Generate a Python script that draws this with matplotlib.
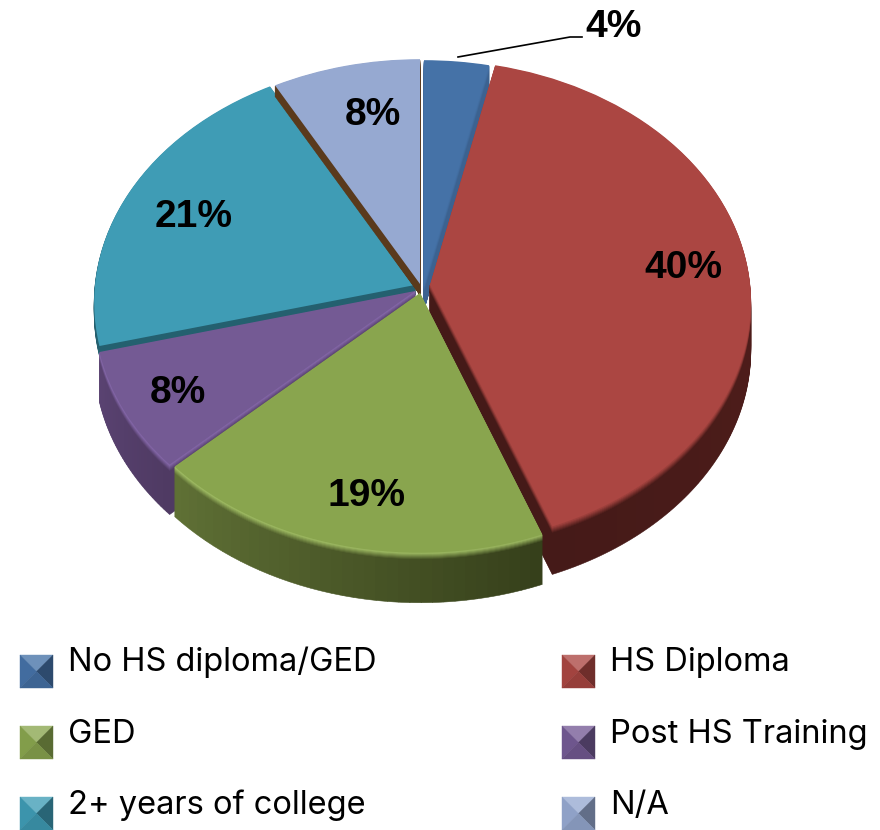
#!/usr/bin/env python
"""Exploded 3D style pie of education levels, with a two column legend."""

import matplotlib

matplotlib.use("Agg")
import matplotlib.pyplot as plt
import numpy as np
from matplotlib.colors import to_rgb
from matplotlib.patches import Wedge
from matplotlib.transforms import Affine2D, Transform

plt.rcParams["font.family"] = ["Liberation Sans", "DejaVu Sans"]

categories = ["No HS diploma/GED", "HS Diploma", "GED",
              "Post HS Training", "2+ years of college", "N/A"]
# slice sizes, labels as printed on it
shares = [3.5, 40.7, 18.8, 8, 21, 8]
share_labels = ["4%", "40%", "19%", "8%", "21%", "8%"]

top_colors = ["#4572a7", "#ab4642", "#89a54e", "#745a94", "#3f9cb5", "#96a9d1"]
wall_start = ["#3c6290", "#5a201d", "#36401b", "#4f3a63", "#24606f", "#5a3a1c"]
wall_end = ["#3c6290", "#451a18", "#5f7035", "#5a4372", "#24606f", "#5a3a1c"]
rim_colors = ["#4572a7", "#ab4642", "#a6c468", "#8a6cb0", "#4db6d3", "#96a9d1"]

# slice apex in pixels, and how far each slice drops
apex = [(424, 285), (430, 285), (420, 293), (415, 291), (415, 285), (420, 284)]
depth = [25, 48, 50, 50, 10, 11]
draw_order = [0, 4, 5, 1, 3, 2]

RX = 320
RY = 241
TILT = 0.072


class Tilt(Transform):
    """Lays a unit pie on its back: far side is shorter than the near side."""

    input_dims = 2
    output_dims = 2

    def transform_non_affine(self, values):
        x, y = values[:, 0], values[:, 1]
        k = 1 + TILT * y
        return np.column_stack([RX * x / k, -RY * y / k])


def mix(a, b, t):
    a, b = np.array(to_rgb(a)), np.array(to_rgb(b))
    return tuple(a + (b - a) * t)


def add_wall(ax, wedge, i):
    """Stack thin arc pieces under the top face, shaded along the angle."""
    edges = np.linspace(wedge.theta1, wedge.theta2, 37)
    fade = 7 if depth[i] > 20 else 1
    for d in range(depth[i], 0, -1):
        for s in range(len(edges) - 1):
            wall = mix(wall_start[i], wall_end[i], 1 - s / (len(edges) - 2))
            face = mix(rim_colors[i], wall, min(1, d / fade))
            piece = Wedge((0, 0), 1, edges[s], edges[s + 1], facecolor=face,
                          edgecolor=face, linewidth=0.4, zorder=wedge.get_zorder() - 0.5)
            piece.set_transform(Tilt() + Affine2D().translate(apex[i][0], apex[i][1] + d) + ax.transData)
            ax.add_patch(piece)


def add_swatch(ax, x, y, color, size=33):
    m = size / 2
    cx, cy = x + m, y + m
    faces = [
        ([x, x + size, cx], [y, y, cy], mix(color, "white", 0.22)),
        ([x, x, cx], [y, y + size, cy], mix(color, "black", 0.05)),
        ([x + size, x + size, cx], [y, y + size, cy], mix(color, "black", 0.35)),
        ([x, x + size, cx], [y + size, y + size, cy], mix(color, "black", 0.12)),
    ]
    for xs, ys, c in faces:
        ax.fill(xs, ys, color=c, linewidth=0.3, zorder=30)


fig = plt.figure(figsize=(8.8, 8.3), dpi=100)
ax = fig.add_axes([0, 0, 1, 1])

wedges, _ = ax.pie(shares, startangle=90, counterclock=False, colors=top_colors,
                   wedgeprops={"linewidth": 0})
for rank, i in enumerate(draw_order):
    w = wedges[i]
    w.set_zorder(2 + rank)
    w.set_transform(Tilt() + Affine2D().translate(*apex[i]) + ax.transData)
    add_wall(ax, w, i)

ax.set_aspect("auto")
ax.set_xlim(0, 880)
ax.set_ylim(830, 0)
ax.axis("off")

# data labels
label_pos = [(614, 27), (683, 268), (366, 496), (178, 393), (194, 217), (373, 115)]
for text, (x, y) in zip(share_labels, label_pos):
    ax.text(x, y, text, ha="center", va="center", fontsize=28,
            fontweight="bold", color="black", zorder=40)
ax.plot([458, 570, 582], [57, 37, 37], color="black", linewidth=1.2, zorder=40)

# legend, read across then down
legend_rows = [671, 743, 814]
swatch_rows = [655, 726, 797]
for n, name in enumerate(categories):
    col, row = n % 2, n // 2
    add_swatch(ax, [20, 562][col], swatch_rows[row], top_colors[n])
    ax.text([68, 610][col], legend_rows[row], name, ha="left", va="baseline",
            fontsize=23.5, family=["Inter", "DejaVu Sans"], color="black", zorder=40)

fig.savefig("out.png", dpi=100, facecolor="white")
plt.close(fig)
